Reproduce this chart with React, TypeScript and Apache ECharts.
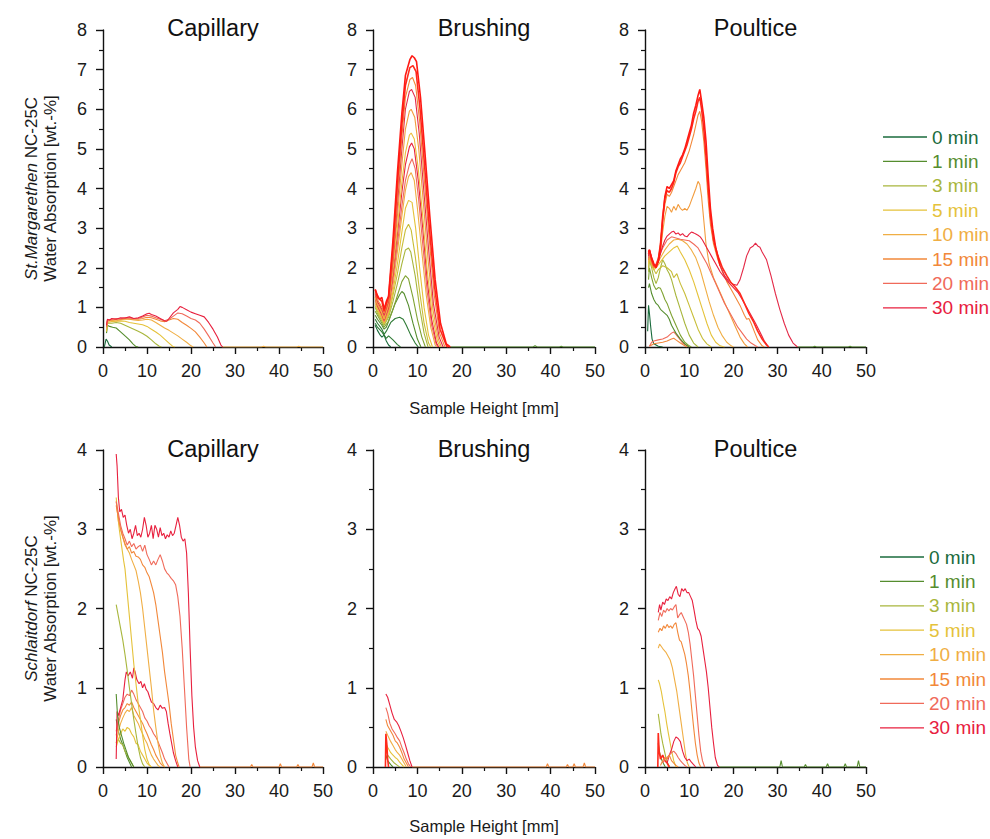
import React, { useEffect, useRef } from "react";
import * as echarts from "echarts";

// ---------- Legend / times ----------
const legendTimes = ["0 min", "1 min", "3 min", "5 min", "10 min", "15 min", "20 min", "30 min"];

// ---------- Panel titles / axis texts ----------
const panelTitles = ["Capillary", "Brushing", "Poultice", "Capillary", "Brushing", "Poultice"];
const xTitle = "Sample Height [mm]";
const yTitleTop = ["St.Margarethen", " NC-25C", "Water Absorption [wt.-%]"];
const yTitleBottom = ["Schlaitdorf", " NC-25C", "Water Absorption [wt.-%]"];
const yMaxTop = 8;
const yMaxBottom = 4;

// ---------- St. Margarethen – Capillary ----------
const smCapNames = ["0 min", "1 min", "3 min", "5 min", "10 min", "15 min", "20 min", "30 min"];
const smCapCurves = [
  [[0.3, 0], [0.7, 0.2], [1.0, 0.15], [1.4, 0.05], [2, 0]],
  [[0.8, 0.35], [1.0, 0.55], [1.5, 0.52], [2.2, 0.5], [3, 0.48], [3.8, 0.4], [4.5, 0.33], [5.2, 0.26], [6, 0.18], [6.8, 0.08], [7.5, 0.01], [8, 0]],
  [[0.8, 0.38], [1.0, 0.6], [2, 0.6], [3, 0.62], [4, 0.6], [5, 0.55], [6, 0.5], [7, 0.45], [8, 0.4], [9, 0.34], [10, 0.27], [11, 0.18], [12, 0.08], [12.8, 0.02], [13.3, 0]],
  [[0.8, 0.4], [1, 0.62], [2, 0.64], [3, 0.65], [4, 0.66], [5, 0.65], [6, 0.62], [7, 0.6], [8, 0.58], [9, 0.56], [10, 0.52], [11, 0.45], [12, 0.38], [13, 0.3], [14, 0.2], [15, 0.1], [15.8, 0.02], [16.3, 0]],
  [[0.8, 0.45], [1, 0.65], [2, 0.67], [3, 0.66], [4, 0.69], [5, 0.7], [6, 0.7], [7, 0.68], [8, 0.67], [9, 0.68], [10, 0.7], [11, 0.68], [12, 0.62], [13, 0.55], [14, 0.48], [15, 0.42], [16, 0.35], [17, 0.28], [18, 0.2], [19, 0.12], [20, 0.03], [20.5, 0]],
  [[0.8, 0.5], [1, 0.66], [2, 0.68], [3, 0.7], [4, 0.7], [5, 0.72], [6, 0.71], [7, 0.7], [8, 0.7], [9, 0.72], [10, 0.75], [11, 0.74], [12, 0.7], [13, 0.66], [14, 0.64], [15, 0.68], [16, 0.72], [17, 0.7], [18, 0.62], [19, 0.55], [20, 0.47], [21, 0.38], [22, 0.25], [23, 0.1], [23.6, 0]],
  [[0.8, 0.52], [1, 0.68], [2, 0.7], [3, 0.72], [4, 0.71], [5, 0.74], [6, 0.73], [7, 0.72], [8, 0.72], [9, 0.76], [10, 0.8], [11, 0.78], [12, 0.74], [13, 0.7], [14, 0.66], [15, 0.7], [16, 0.78], [17, 0.86], [18, 0.84], [19, 0.78], [20, 0.72], [21, 0.68], [22, 0.6], [23, 0.45], [24, 0.28], [25, 0.1], [25.6, 0]],
  [[0.8, 0.55], [1, 0.7], [1.5, 0.68], [2, 0.72], [3, 0.7], [4, 0.74], [5, 0.73], [6, 0.76], [7, 0.72], [8, 0.74], [9, 0.78], [10, 0.84], [10.5, 0.85], [11, 0.82], [12, 0.78], [13, 0.72], [14, 0.66], [14.5, 0.65], [15, 0.72], [16, 0.86], [17, 0.95], [17.5, 1.02], [18, 1.0], [19, 0.94], [20, 0.88], [21, 0.84], [22, 0.8], [23, 0.76], [24, 0.62], [25, 0.45], [26, 0.25], [26.8, 0.05], [27.2, 0]],
];
const smCapNoise = [[27, 0], [36, 0], [36.5, 0.02], [37, 0], [44, 0], [44.5, 0.02], [45, 0], [50, 0]];

// ---------- St. Margarethen – Brushing ----------
const smBrNames = ["0 min", "0.5 min", "0.5 min", "1 min", "2 min", "3 min", "4 min", "5 min", "10 min", "20 min", "30 min", "7 min", "12 min", "25 min", "15 min", "45 min", "60 min"];
const smBrCurves = [
  [[0.5, 0.55], [1, 0.42], [1.5, 0.32], [2, 0.25], [2.5, 0.3], [3, 0.15], [3.5, 0.05], [4, 0]],
  [[0.5, 0.6], [1, 0.5], [2, 0.38], [2.5, 0.3], [3, 0.22], [3.5, 0.28], [4.5, 0.18], [5.5, 0.06], [6.2, 0]],
  [[0.5, 0.7], [1, 0.6], [2, 0.45], [2.5, 0.32], [3, 0.4], [4, 0.62], [5, 0.72], [6, 0.75], [6.8, 0.7], [7.5, 0.55], [8.5, 0.3], [9.5, 0.1], [10.2, 0]],
  [[0.5, 0.8], [1, 0.7], [2, 0.55], [2.5, 0.45], [3, 0.5], [4, 0.8], [5, 1.1], [6, 1.32], [6.5, 1.4], [7, 1.35], [8, 1.05], [9, 0.6], [10, 0.2], [10.8, 0]],
  [[0.5, 0.9], [1, 0.8], [2, 0.6], [2.5, 0.5], [3.5, 0.65], [4.5, 0.95], [5.5, 1.3], [6.5, 1.65], [7.3, 1.8], [8, 1.72], [9, 1.25], [10, 0.7], [11, 0.25], [11.8, 0]],
  [[0.5, 1.0], [1, 0.85], [2, 0.65], [2.5, 0.55], [3.5, 0.75], [4.5, 1.15], [5.5, 1.6], [6.5, 2.1], [7.3, 2.45], [8, 2.5], [8.5, 2.4], [9.5, 1.8], [10.5, 1.0], [11.5, 0.35], [12.4, 0]],
  [[0.5, 1.05], [1, 0.9], [2, 0.7], [2.5, 0.58], [3.5, 0.8], [4.5, 1.3], [5.5, 1.85], [6.5, 2.5], [7.3, 2.95], [8, 3.1], [8.6, 2.95], [9.5, 2.3], [10.5, 1.4], [11.5, 0.6], [12.5, 0.1], [13, 0]],
  [[0.5, 1.1], [1, 0.95], [2, 0.72], [2.5, 0.6], [3.5, 0.85], [4.5, 1.4], [5.5, 2.1], [6.5, 2.9], [7.3, 3.5], [8, 3.7], [8.8, 3.65], [9.6, 3.0], [10.5, 2.0], [11.5, 1.0], [12.5, 0.3], [13.4, 0]],
  [[0.5, 1.15], [1, 1.0], [2, 0.75], [2.5, 0.62], [3.5, 0.9], [4.5, 1.55], [5.5, 2.4], [6.5, 3.3], [7.3, 3.95], [8, 4.3], [8.6, 4.4], [9.3, 4.2], [10, 3.5], [11, 2.4], [12, 1.3], [13, 0.5], [14, 0.05], [14.3, 0]],
  [[0.5, 1.2], [1, 1.02], [2, 0.8], [2.5, 0.65], [3.5, 0.95], [4.5, 1.7], [5.5, 2.6], [6.5, 3.55], [7.3, 4.2], [8.2, 4.6], [8.8, 4.75], [9.5, 4.5], [10.3, 3.7], [11.2, 2.6], [12.2, 1.4], [13.2, 0.55], [14.2, 0.08], [14.6, 0]],
  [[0.5, 1.25], [1, 1.05], [2, 0.82], [2.5, 0.68], [3.5, 1.0], [4.5, 1.85], [5.5, 2.85], [6.5, 3.9], [7.3, 4.6], [8.2, 5.05], [8.7, 5.15], [9.3, 5.0], [10.2, 4.2], [11.2, 3.0], [12.2, 1.7], [13.2, 0.7], [14.3, 0.1], [14.8, 0]],
  [[0.5, 1.25], [1, 1.08], [2, 0.85], [2.5, 0.7], [3.5, 1.05], [4.5, 1.95], [5.5, 3.0], [6.5, 4.15], [7.3, 4.9], [8.2, 5.35], [8.6, 5.4], [9.3, 5.25], [10.2, 4.5], [11.2, 3.3], [12.2, 1.95], [13.3, 0.85], [14.5, 0.15], [15.1, 0]],
  [[0.5, 1.3], [1, 1.1], [2, 0.9], [2.5, 0.75], [3.5, 1.1], [4.5, 2.1], [5.5, 3.3], [6.5, 4.6], [7.3, 5.5], [8.2, 5.95], [8.6, 6.0], [9.4, 5.8], [10.3, 5.0], [11.3, 3.7], [12.4, 2.2], [13.5, 0.95], [14.7, 0.2], [15.4, 0]],
  [[0.5, 1.35], [1, 1.15], [2, 0.95], [2.5, 0.8], [3.5, 1.15], [4.5, 2.2], [5.5, 3.6], [6.5, 5.0], [7.3, 6.0], [8.2, 6.45], [8.7, 6.5], [9.5, 6.3], [10.4, 5.4], [11.4, 4.0], [12.5, 2.5], [13.6, 1.1], [14.9, 0.25], [15.8, 0]],
  [[0.5, 1.4], [1, 1.2], [2, 1.0], [2.5, 0.85], [3.5, 1.2], [4.5, 2.3], [5.5, 3.8], [6.5, 5.3], [7.3, 6.3], [8.3, 6.75], [8.9, 6.8], [9.6, 6.6], [10.5, 5.7], [11.5, 4.3], [12.6, 2.8], [13.8, 1.3], [15, 0.35], [16.2, 0]],
  [[0.5, 1.45], [1, 1.25], [1.5, 1.2], [2, 1.15], [2.5, 0.9], [3, 1.1], [3.5, 1.25], [4.5, 2.5], [5.5, 4.1], [6.5, 5.6], [7.3, 6.6], [8.3, 7.05], [9, 7.1], [9.7, 6.95], [10.6, 6.0], [11.6, 4.6], [12.7, 3.0], [13.9, 1.5], [15.1, 0.45], [16.6, 0.02], [17, 0]],
  [[0.5, 1.45], [1, 1.3], [1.5, 1.2], [2, 1.25], [2.5, 0.95], [3, 1.15], [3.5, 1.28], [4.5, 2.7], [5.5, 4.4], [6.5, 5.9], [7.3, 6.85], [8.3, 7.25], [8.8, 7.35], [9.3, 7.3], [9.8, 7.2], [10.7, 6.3], [11.7, 4.9], [12.8, 3.3], [14, 1.7], [15.2, 0.6], [16.5, 0.08], [17.4, 0]],
];
const smBrNoise = [[17.4, 0], [36, 0], [36.5, 0.03], [37, 0], [42, 0], [42.4, 0.02], [42.8, 0], [50, 0]];

// ---------- St. Margarethen – Poultice ----------
const smPoNames = ["0 min", "15 min", "20 min", "1 min", "2 min", "3 min", "4 min", "5 min", "10 min", "12 min", "15 min", "20 min", "30 min", "25 min", "45 min", "60 min"];
const smPoCurves = [
  [[0.6, 0.4], [0.8, 1.05], [1.0, 0.85], [1.3, 0.5], [1.6, 0.2], [2, 0.08], [3, 0.02], [4, 0]],
  [[1, 0.02], [2, 0.08], [3, 0.1], [4, 0.12], [5, 0.15], [6, 0.2], [6.5, 0.22], [7, 0.18], [8, 0.1], [9, 0.03], [9.5, 0]],
  [[1, 0.02], [1.5, 0.12], [2, 0.15], [3, 0.18], [4, 0.2], [5, 0.25], [5.5, 0.3], [6, 0.35], [6.5, 0.38], [7, 0.32], [7.5, 0.25], [8, 0.18], [8.5, 0.1], [9.5, 0.03], [10, 0]],
  [[0.8, 1.5], [1, 1.6], [1.5, 1.35], [2, 1.2], [2.5, 1.1], [3, 1.05], [3.5, 0.95], [4, 0.9], [4.5, 0.85], [5, 0.8], [5.5, 0.7], [6, 0.55], [6.5, 0.45], [7, 0.35], [8, 0.2], [9, 0.08], [10, 0]],
  [[0.8, 1.7], [1, 2.0], [1.5, 1.75], [2, 1.55], [2.5, 1.45], [3, 1.5], [3.5, 1.48], [4, 1.35], [4.5, 1.2], [5, 1.1], [5.5, 0.95], [6, 0.8], [7, 0.55], [8, 0.3], [9, 0.12], [10, 0.03], [10.5, 0]],
  [[0.8, 1.9], [1, 2.2], [1.5, 2.0], [2, 1.75], [2.5, 1.6], [3, 1.75], [3.5, 2.0], [4, 2.2], [4.5, 2.1], [5, 1.95], [5.5, 1.85], [6, 1.7], [6.5, 1.5], [7, 1.3], [8, 0.95], [9, 0.6], [10, 0.3], [11, 0.1], [12, 0]],
  [[0.8, 2.0], [1, 2.2], [1.5, 2.05], [2, 1.95], [2.5, 1.85], [3, 1.95], [4, 2.05], [5, 2.0], [6, 1.9], [6.5, 1.75], [7.2, 1.85], [8, 1.6], [9, 1.35], [10, 1.05], [11, 0.75], [12, 0.45], [13, 0.22], [14, 0.08], [15, 0]],
  [[0.8, 2.1], [1, 2.25], [1.5, 2.1], [2, 1.95], [2.5, 2.0], [3.5, 2.15], [4.5, 2.3], [5.5, 2.4], [6.5, 2.5], [7.3, 2.55], [8, 2.4], [9, 2.2], [10, 1.95], [11, 1.65], [12, 1.3], [13, 0.95], [14, 0.6], [15, 0.3], [16, 0.12], [17, 0.03], [18, 0]],
  [[0.8, 2.15], [1, 2.3], [1.5, 2.15], [2, 2.0], [2.5, 2.05], [3.5, 2.25], [4.5, 2.45], [5.5, 2.6], [6.5, 2.7], [7.5, 2.72], [8.5, 2.68], [9.5, 2.6], [10.5, 2.45], [11.5, 2.25], [12.5, 1.95], [13.5, 1.55], [14.5, 1.15], [15.5, 0.8], [16.5, 0.5], [17.5, 0.28], [18.5, 0.12], [19.5, 0.03], [20, 0]],
  [[0.8, 2.2], [1, 2.3], [1.5, 2.1], [2, 2.0], [2.5, 2.05], [3, 2.15], [3.5, 2.4], [4, 2.9], [4.5, 3.3], [5, 3.55], [5.5, 3.5], [6, 3.4], [6.5, 3.55], [7, 3.45], [7.5, 3.6], [8, 3.5], [8.5, 3.45], [9, 3.5], [9.5, 3.45], [10, 3.55], [10.5, 3.7], [11, 3.85], [11.5, 4.0], [12, 4.18], [12.4, 4.1], [12.8, 3.8], [13.3, 3.2], [13.8, 2.6], [14.5, 2.1], [15.5, 1.75], [16.5, 1.5], [17.5, 1.25], [18.5, 1.0], [19.5, 0.75], [20.5, 0.5], [21.5, 0.25], [22.5, 0.08], [23.2, 0]],
  [[0.8, 2.2], [1, 2.35], [1.5, 2.15], [2, 2.0], [2.5, 2.05], [3, 2.2], [3.5, 2.6], [4, 3.2], [4.5, 3.6], [5, 3.85], [5.5, 3.8], [6, 3.9], [6.5, 4.05], [7, 4.2], [7.5, 4.35], [8, 4.45], [8.5, 4.55], [9, 4.65], [9.5, 4.8], [10, 4.95], [10.5, 5.15], [11, 5.35], [11.5, 5.6], [12, 5.85], [12.4, 5.95], [12.8, 5.7], [13.3, 5.2], [13.8, 4.5], [14.3, 3.7], [14.8, 3.1], [15.5, 2.6], [16.5, 2.2], [17.5, 1.9], [18.5, 1.65], [19.5, 1.45], [20.5, 1.25], [21.5, 1.05], [22.5, 0.8], [23, 0.7], [23.5, 0.72], [24, 0.6], [24.7, 0.4], [25.5, 0.18], [26.5, 0.03], [27, 0]],
  [[0.8, 2.25], [1, 2.4], [1.5, 2.2], [2, 2.05], [2.5, 2.1], [3, 2.25], [4, 2.5], [5, 2.7], [6, 2.78], [7, 2.75], [8, 2.72], [9, 2.7], [10, 2.68], [11, 2.6], [12, 2.5], [13, 2.3], [14, 2.1], [15, 1.85], [16, 1.6], [17, 1.35], [18, 1.1], [19, 0.9], [20, 0.7], [21, 0.5], [22, 0.35], [23, 0.2], [24, 0.1], [25, 0.03], [25.5, 0]],
  [[0.8, 2.3], [1, 2.45], [1.5, 2.25], [2, 2.1], [2.5, 2.05], [3, 2.15], [3.5, 2.35], [4, 2.55], [4.5, 2.7], [5, 2.8], [5.5, 2.85], [6, 2.9], [6.5, 2.92], [7, 2.85], [7.5, 2.88], [8, 2.82], [8.5, 2.86], [9, 2.8], [9.5, 2.78], [10, 2.85], [10.5, 2.9], [11, 2.88], [11.5, 2.85], [12, 2.82], [12.5, 2.78], [13, 2.7], [14, 2.5], [15, 2.3], [16, 2.1], [17, 1.9], [18, 1.75], [19, 1.62], [20, 1.5], [21, 1.38], [22, 1.2], [23, 1.0], [24, 0.8], [25, 0.6], [26, 0.38], [27, 0.15], [28, 0]],
  [[17, 2.05], [18, 1.8], [19, 1.65], [20, 1.58], [20.8, 1.56], [21.5, 1.7], [22.3, 2.0], [23, 2.3], [23.8, 2.5], [24.5, 2.55], [25, 2.62], [25.5, 2.55], [26, 2.52], [26.5, 2.4], [27.5, 2.2], [28.5, 1.8], [29.5, 1.35], [30.5, 0.95], [31.5, 0.6], [32.5, 0.3], [33.5, 0.1], [34.5, 0]],
  [[0.8, 2.35], [1, 2.45], [1.5, 2.2], [2, 2.05], [2.5, 2.05], [3, 2.2], [3.5, 2.6], [4, 3.3], [4.5, 3.75], [5, 3.95], [5.5, 3.9], [6, 4.0], [6.5, 4.15], [7, 4.4], [7.5, 4.55], [8, 4.65], [8.5, 4.8], [9, 4.95], [9.5, 5.1], [10, 5.3], [10.5, 5.5], [11, 5.75], [11.5, 5.95], [12, 6.2], [12.4, 6.3], [12.8, 6.0], [13.3, 5.5], [13.8, 4.8], [14.3, 4.0], [14.8, 3.3], [15.5, 2.7], [16.5, 2.3], [17.5, 2.0], [18.5, 1.8], [19.5, 1.62], [20.5, 1.5], [21.5, 1.35], [22.5, 1.1], [23.5, 0.85], [24.5, 0.65], [25.5, 0.4], [26.5, 0.2], [27.5, 0.05], [28, 0]],
  [[0.8, 2.4], [1, 2.45], [1.5, 2.25], [2, 2.1], [2.5, 2.0], [3, 2.15], [3.5, 2.5], [4, 3.2], [4.5, 3.8], [5, 4.05], [5.5, 4.0], [6, 4.1], [6.5, 4.2], [7, 4.45], [7.5, 4.6], [8, 4.75], [8.5, 4.85], [9, 5.0], [9.5, 5.2], [10, 5.4], [10.5, 5.6], [11, 5.9], [11.5, 6.1], [12, 6.35], [12.4, 6.5], [12.8, 6.2], [13.3, 5.8], [13.8, 5.2], [14.3, 4.3], [14.8, 3.5], [15.3, 3.0], [16, 2.5], [17, 2.05]],
];
const smPoNoise = [[34.5, 0], [38, 0], [38.4, 0.02], [38.8, 0], [46, 0], [46.4, 0.02], [46.8, 0], [50, 0]];

// ---------- Schlaitdorf – Capillary ----------
const slCapNames = ["1 min", "3 min", "5 min", "10 min", "15 min", "20 min", "30 min", "1 min", "3 min", "5 min", "10 min", "15 min", "20 min", "30 min"];
const slCapCurves = [
  [[3, 0.6], [3.5, 0.45], [4, 0.35], [4.5, 0.28], [5, 0.2], [5.5, 0.12], [6, 0.06], [6.5, 0]],
  [[3, 0.3], [3.5, 0.35], [4, 0.3], [4.5, 0.28], [5, 0.2], [5.5, 0.15], [6, 0.1], [6.5, 0.05], [7, 0]],
  [[3, 0.25], [3.5, 0.35], [4, 0.42], [4.5, 0.48], [5, 0.45], [5.5, 0.5], [6, 0.48], [6.5, 0.42], [7, 0.38], [7.5, 0.3], [8, 0.28], [8.5, 0.2], [9, 0.15], [9.5, 0.1], [10, 0.05], [10.5, 0.02], [11, 0]],
  [[3, 0.3], [3.5, 0.45], [4, 0.55], [4.5, 0.62], [5, 0.68], [5.5, 0.72], [6, 0.7], [6.5, 0.75], [7, 0.65], [7.5, 0.6], [8, 0.55], [8.5, 0.48], [9, 0.42], [9.5, 0.35], [10, 0.3], [10.5, 0.22], [11, 0.15], [11.5, 0.1], [12, 0.06], [12.5, 0.02], [13, 0]],
  [[3, 0.4], [3.5, 0.55], [4, 0.65], [4.5, 0.72], [5, 0.75], [5.5, 0.8], [6, 0.78], [6.5, 0.82], [7, 0.75], [7.5, 0.7], [8, 0.65], [8.5, 0.6], [9, 0.55], [9.5, 0.48], [10, 0.42], [10.5, 0.35], [11, 0.28], [11.5, 0.22], [12, 0.15], [12.5, 0.1], [13, 0.05], [13.5, 0.02], [14, 0]],
  [[3, 0.45], [3.5, 0.6], [4, 0.72], [4.5, 0.8], [5, 0.88], [5.5, 0.92], [6, 0.9], [6.5, 0.97], [7, 0.92], [7.5, 0.85], [8, 0.8], [8.5, 0.75], [9, 0.7], [9.5, 0.62], [10, 0.58], [10.5, 0.52], [11, 0.48], [11.5, 0.42], [12, 0.38], [12.5, 0.32], [13, 0.25], [13.5, 0.18], [14, 0.1], [14.5, 0.05], [15, 0]],
  [[3, 0.1], [3.2, 0.7], [3.5, 0.65], [4, 0.75], [4.5, 0.85], [5, 1.1], [5.3, 1.2], [5.7, 1.15], [6.2, 1.2], [6.7, 1.12], [7, 1.25], [7.3, 1.2], [7.7, 1.1], [8.2, 1.05], [8.6, 1.08], [9, 1.0], [9.4, 1.05], [9.8, 0.98], [10.2, 0.95], [10.6, 0.88], [11, 0.82], [11.5, 0.8], [12, 0.75], [12.5, 0.72], [13, 0.78], [13.5, 0.74], [14, 0.75], [14.4, 0.7], [14.8, 0.55], [15.2, 0.42], [15.6, 0.3], [16, 0.18], [16.5, 0.08], [17, 0]],
  [[3, 0.92], [3.3, 0.65], [3.7, 0.5], [4.2, 0.4], [4.7, 0.3], [5.2, 0.22], [5.8, 0.12], [6.5, 0.05], [7, 0]],
  [[3, 2.05], [3.5, 1.9], [4, 1.75], [4.5, 1.6], [5, 1.42], [5.5, 1.22], [6, 1.0], [6.5, 0.8], [7, 0.6], [7.5, 0.42], [8, 0.25], [8.5, 0.12], [9, 0.04], [9.5, 0]],
  [[3, 3.4], [3.3, 3.2], [3.7, 3.0], [4.2, 2.8], [4.7, 2.6], [5, 2.5], [5.5, 2.2], [6, 1.9], [6.5, 1.6], [7, 1.3], [7.5, 1.05], [8, 0.8], [8.5, 0.6], [9, 0.4], [9.5, 0.22], [10, 0.1], [10.5, 0.03], [11, 0]],
  [[3, 3.35], [3.5, 3.1], [4, 3.0], [4.5, 2.9], [5, 2.8], [5.5, 2.75], [6, 2.7], [6.5, 2.62], [7, 2.55], [7.5, 2.48], [8, 2.35], [8.5, 2.2], [9, 2.0], [9.5, 1.75], [10, 1.5], [10.5, 1.25], [11, 1.0], [11.5, 0.72], [12, 0.5], [12.5, 0.3], [13, 0.15], [13.5, 0.05], [14, 0]],
  [[3, 3.3], [3.5, 3.15], [4, 3.0], [4.5, 2.9], [5, 2.82], [5.5, 2.75], [6, 2.78], [6.5, 2.7], [7, 2.72], [7.5, 2.66], [8, 2.65], [8.5, 2.62], [9, 2.55], [9.5, 2.52], [10, 2.45], [10.5, 2.4], [11, 2.3], [11.5, 2.2], [12, 2.05], [12.5, 1.85], [13, 1.65], [13.5, 1.45], [14, 1.2], [14.5, 1.0], [15, 0.8], [15.5, 0.55], [16, 0.35], [16.5, 0.15], [17, 0.05], [17.3, 0]],
  [[3, 3.35], [3.5, 3.2], [4, 3.05], [4.5, 2.95], [5, 2.88], [5.5, 2.8], [6, 2.85], [6.5, 2.78], [7, 2.82], [7.5, 2.75], [8, 2.78], [8.5, 2.8], [9, 2.72], [9.5, 2.8], [10, 2.68], [10.5, 2.62], [11, 2.55], [11.5, 2.6], [12, 2.55], [12.5, 2.62], [13, 2.68], [13.5, 2.6], [14, 2.5], [14.5, 2.45], [15, 2.42], [15.5, 2.38], [16, 2.35], [16.5, 2.3], [17, 2.15], [17.5, 1.9], [18, 1.5], [18.5, 1.0], [19, 0.5], [19.5, 0.1], [19.8, 0]],
  [[3, 3.95], [3.2, 3.8], [3.5, 3.4], [3.8, 3.22], [4.2, 3.25], [4.6, 3.15], [5, 3.18], [5.4, 3.05], [5.8, 2.95], [6.2, 3.0], [6.6, 2.88], [7, 2.95], [7.4, 3.05], [7.8, 2.92], [8.2, 2.95], [8.6, 2.9], [9, 3.0], [9.4, 3.15], [9.8, 3.05], [10.2, 2.9], [10.6, 2.95], [11, 3.05], [11.4, 2.88], [11.8, 3.05], [12.2, 3.0], [12.6, 2.9], [13, 3.02], [13.4, 2.92], [13.8, 2.95], [14.2, 2.88], [14.6, 2.93], [15, 2.9], [15.4, 2.98], [15.8, 2.92], [16.2, 2.95], [16.6, 3.05], [17, 3.15], [17.4, 3.05], [17.8, 2.9], [18.2, 2.85], [18.6, 2.88], [19, 2.7], [19.4, 2.2], [19.8, 1.5], [20.2, 0.9], [20.6, 0.5], [21, 0.25], [21.5, 0.08], [22, 0]],
];
const slCapNoise = [[22, 0], [33.5, 0], [33.8, 0.03], [34.1, 0], [40, 0], [40.3, 0.04], [40.6, 0], [44, 0], [44.3, 0.03], [44.6, 0], [47.5, 0], [47.8, 0.05], [48.1, 0], [50, 0]];

// ---------- Schlaitdorf – Brushing ----------
const slBrNames = ["1 min", "3 min", "5 min", "10 min", "15 min", "20 min", "30 min", "45 min"];
const slBrCurves = [
  [[2.9, 0.15], [3.3, 0.08], [4, 0.03], [4.5, 0]],
  [[2.9, 0.22], [3.3, 0.15], [4, 0.1], [4.8, 0.05], [5.5, 0.02], [6, 0]],
  [[2.9, 0.3], [3.3, 0.25], [4, 0.18], [4.5, 0.15], [5, 0.12], [5.5, 0.1], [6, 0.06], [6.5, 0.03], [7, 0]],
  [[2.9, 0.45], [3.3, 0.4], [4, 0.32], [4.5, 0.27], [5, 0.22], [5.5, 0.18], [6, 0.15], [6.5, 0.1], [7, 0.05], [7.5, 0]],
  [[2.9, 0.6], [3.3, 0.52], [4, 0.45], [4.5, 0.4], [5, 0.33], [5.5, 0.3], [6, 0.25], [6.5, 0.18], [7, 0.1], [7.5, 0.05], [8, 0]],
  [[2.9, 0.75], [3.3, 0.68], [3.8, 0.55], [4.3, 0.48], [5, 0.42], [5.5, 0.37], [6, 0.33], [6.5, 0.25], [7, 0.18], [7.5, 0.1], [8, 0.04], [8.5, 0]],
  [[2.9, 0.92], [3.3, 0.88], [3.8, 0.78], [4.3, 0.68], [4.8, 0.6], [5.3, 0.57], [5.8, 0.52], [6.3, 0.45], [6.8, 0.37], [7.3, 0.28], [7.8, 0.18], [8.3, 0.08], [8.8, 0]],
  [[2.8, 0], [2.9, 0.42], [3.1, 0.3], [3.3, 0.1], [3.5, 0]],
];
const slBrNoise = [[8.8, 0], [39, 0], [39.3, 0.04], [39.6, 0], [43.5, 0], [43.8, 0.03], [44.1, 0], [45, 0], [45.3, 0.04], [45.6, 0], [47.3, 0], [47.6, 0.05], [47.9, 0], [50, 0]];

// ---------- Schlaitdorf – Poultice ----------
const slPoNames = ["1 min", "3 min", "5 min", "10 min", "15 min", "20 min", "30 min", "45 min", "30 min", "20 min", "15 min"];
const slPoCurves = [
  [[3, 0.3], [3.3, 0.18], [3.7, 0.1], [4.2, 0.04], [4.6, 0]],
  [[3, 0.67], [3.3, 0.55], [3.6, 0.42], [4, 0.3], [4.4, 0.2], [4.8, 0.1], [5.2, 0.04], [5.6, 0]],
  [[3, 1.1], [3.3, 1.05], [3.7, 0.95], [4.1, 0.82], [4.5, 0.7], [4.9, 0.55], [5.3, 0.42], [5.7, 0.3], [6.1, 0.18], [6.5, 0.08], [7, 0]],
  [[3, 1.5], [3.3, 1.55], [3.7, 1.52], [4.2, 1.48], [4.7, 1.45], [5.2, 1.4], [5.7, 1.35], [6.2, 1.25], [6.7, 1.1], [7.2, 0.95], [7.7, 0.75], [8.2, 0.55], [8.7, 0.35], [9.2, 0.15], [9.6, 0.05], [10, 0]],
  [[3, 1.7], [3.4, 1.75], [3.8, 1.72], [4.2, 1.78], [4.6, 1.75], [5, 1.8], [5.4, 1.76], [5.8, 1.78], [6.2, 1.75], [6.6, 1.8], [7, 1.82], [7.4, 1.7], [7.8, 1.6], [8.2, 1.58], [8.6, 1.5], [9, 1.42], [9.4, 1.3], [9.8, 1.15], [10.2, 0.95], [10.6, 0.72], [11, 0.5], [11.4, 0.3], [11.8, 0.15], [12.2, 0.05], [12.6, 0]],
  [[3, 1.85], [3.4, 1.95], [3.8, 1.9], [4.2, 1.98], [4.6, 1.95], [5, 2.0], [5.4, 1.97], [5.8, 2.0], [6.2, 1.98], [6.6, 2.02], [7, 2.05], [7.4, 1.88], [7.8, 1.92], [8.2, 1.95], [8.6, 1.9], [9, 1.85], [9.4, 1.8], [9.8, 1.7], [10.2, 1.55], [10.6, 1.35], [11, 1.15], [11.4, 0.9], [11.8, 0.65], [12.2, 0.4], [12.6, 0.2], [13, 0.08], [13.5, 0]],
  [[3, 1.95], [3.3, 2.05], [3.6, 1.98], [4, 2.08], [4.4, 2.05], [4.8, 2.12], [5.2, 2.1], [5.6, 2.15], [6, 2.12], [6.4, 2.2], [6.8, 2.25], [7.1, 2.28], [7.5, 2.18], [7.9, 2.15], [8.3, 2.25], [8.7, 2.22], [9.1, 2.25], [9.5, 2.2], [9.9, 2.2], [10.3, 2.15], [10.7, 2.1], [11.1, 1.98], [11.5, 1.85], [11.9, 1.75], [12.3, 1.72], [12.7, 1.65], [13.1, 1.5], [13.5, 1.35], [13.9, 1.2], [14.3, 1.0], [14.7, 0.75], [15.1, 0.5], [15.5, 0.3], [15.9, 0.12], [16.4, 0.02], [16.8, 0]],
  [[2.9, 0], [3, 0.43], [3.2, 0.2], [3.5, 0.1], [4, 0.15], [4.5, 0.08], [5, 0.05], [5.5, 0]],
  [[5, 0.05], [5.5, 0.15], [6, 0.22], [6.5, 0.32], [7, 0.38], [7.5, 0.36], [8, 0.32], [8.5, 0.2], [9, 0.12], [9.5, 0.08], [10, 0.1], [10.5, 0.06], [11, 0.03], [11.5, 0]],
  [[4, 0.05], [4.5, 0.1], [5, 0.12], [5.5, 0.15], [6, 0.18], [6.5, 0.2], [7, 0.17], [7.5, 0.12], [8, 0.08], [8.5, 0.05], [9, 0.02], [9.5, 0]],
  [[3.5, 0.02], [4, 0.08], [4.5, 0.12], [5, 0.1], [5.5, 0.15], [6, 0.08], [6.5, 0.05], [7, 0.02], [7.5, 0]],
];
const slPoNoise = [[16.8, 0], [30.5, 0], [30.8, 0.08], [31.1, 0], [36, 0], [36.3, 0.03], [36.6, 0], [41, 0], [41.3, 0.04], [41.6, 0], [45, 0], [45.3, 0.04], [45.6, 0], [48, 0], [48.3, 0.08], [48.6, 0], [50, 0]];

// ---------- Styles (not data) ----------
const TIME_COLORS: Record<string, string> = {
  "0 min": "#1a6b3c",
  "0.5 min": "#2e7a35",
  "1 min": "#558d2e",
  "2 min": "#7fa232",
  "3 min": "#a8b63c",
  "4 min": "#c8bd38",
  "5 min": "#e5c23a",
  "7 min": "#ecbd3c",
  "10 min": "#f0ae44",
  "12 min": "#f29c3e",
  "15 min": "#f2883a",
  "17 min": "#f2764a",
  "20 min": "#f06a5a",
  "25 min": "#e42a48",
  "30 min": "#e8203e",
  "45 min": "#ff2a1c",
  "60 min": "#ff1a14",
};
const FONT = "'Liberation Sans', Arial, Helvetica, sans-serif";
const GRID_LEFT = [103, 373, 645];
const GRID_WIDTH = [220, 222, 221];
const GRID_TOP = [30, 450];
const GRID_HEIGHT = 317;
const TITLE_Y = [28, 449];

const panels = [
  { names: smCapNames, curves: smCapCurves, noise: smCapNoise, noiseName: "10 min" },
  { names: smBrNames, curves: smBrCurves, noise: smBrNoise, noiseName: "1 min" },
  { names: smPoNames, curves: smPoCurves, noise: smPoNoise, noiseName: "1 min" },
  { names: slCapNames, curves: slCapCurves, noise: slCapNoise, noiseName: "15 min" },
  { names: slBrNames, curves: slBrCurves, noise: slBrNoise, noiseName: "15 min" },
  { names: slPoNames, curves: slPoCurves, noise: slPoNoise, noiseName: "1 min" },
];

function buildOption() {
  const grids: any[] = [];
  const xAxes: any[] = [];
  const yAxes: any[] = [];
  const series: any[] = [];
  const graphics: any[] = [];

  panels.forEach((p, i) => {
    const row = i < 3 ? 0 : 1;
    const col = i % 3;
    grids.push({
      left: GRID_LEFT[col],
      width: GRID_WIDTH[col],
      top: GRID_TOP[row],
      height: GRID_HEIGHT,
      containLabel: false,
    });
    const axisLine = { show: true, onZero: false, lineStyle: { color: "#111", width: 1.4 } };
    xAxes.push({
      type: "value",
      gridIndex: i,
      min: 0,
      max: 50,
      interval: 10,
      axisLine,
      axisTick: { show: true, length: 7, lineStyle: { color: "#111", width: 1.4 } },
      minorTick: { show: true, splitNumber: 2, length: 4, lineStyle: { color: "#111", width: 1.2 } },
      splitLine: { show: false },
      axisLabel: { fontSize: 18, color: "#1a1a1a", fontFamily: FONT, margin: 15 },
      name: col === 1 ? xTitle : "",
      nameLocation: "middle",
      nameGap: row === 0 ? 52 : 50,
      nameTextStyle: { fontSize: 16.5, color: "#1a1a1a", fontFamily: FONT },
    });
    const yt = row === 0 ? yTitleTop : yTitleBottom;
    yAxes.push({
      type: "value",
      gridIndex: i,
      min: 0,
      max: row === 0 ? yMaxTop : yMaxBottom,
      interval: 1,
      axisLine,
      axisTick: { show: true, length: 7, lineStyle: { color: "#111", width: 1.4 } },
      minorTick: { show: true, splitNumber: 2, length: 4, lineStyle: { color: "#111", width: 1.2 } },
      splitLine: { show: false },
      axisLabel: { fontSize: 18, color: "#1a1a1a", fontFamily: FONT, margin: 16 },
      name: col === 0 ? `{it|${yt[0]}}${yt[1]}\n${yt[2]}` : "",
      nameLocation: "middle",
      nameGap: 43,
      nameTextStyle: {
        fontSize: 17,
        color: "#1a1a1a",
        fontFamily: FONT,
        lineHeight: 19,
        rich: { it: { fontStyle: "italic", fontSize: 17, fontFamily: FONT, color: "#1a1a1a", lineHeight: 19 } },
      },
    });

    p.curves.forEach((pts, j) => {
      const name = p.names[j];
      const color = TIME_COLORS[name];
      const wide = name === "45 min" || name === "60 min";
      series.push({
        type: "line",
        name,
        xAxisIndex: i,
        yAxisIndex: i,
        data: pts,
        symbol: "none",
        showSymbol: false,
        silent: true,
        clip: true,
        lineStyle: { color, width: wide ? 1.6 : 1.1 },
        itemStyle: { color },
      });
    });
    series.push({
      type: "line",
      name: p.noiseName,
      xAxisIndex: i,
      yAxisIndex: i,
      data: p.noise,
      symbol: "none",
      showSymbol: false,
      silent: true,
      z: 1,
      lineStyle: { color: TIME_COLORS[p.noiseName], width: 1.1 },
      itemStyle: { color: TIME_COLORS[p.noiseName] },
    });

    graphics.push({
      type: "text",
      x: GRID_LEFT[col] + GRID_WIDTH[col] / 2,
      y: TITLE_Y[row],
      style: {
        text: panelTitles[i],
        fontSize: 23.5,
        fontFamily: FONT,
        fill: "#111",
        textAlign: "center",
        textVerticalAlign: "middle",
      },
    });
  });

  const legendData = legendTimes.map((t) => ({
    name: t,
    icon: "rect",
    textStyle: { color: TIME_COLORS[t] },
    itemStyle: { color: TIME_COLORS[t], borderWidth: 0 },
  }));
  const legendBase = {
    orient: "vertical",
    data: legendData,
    icon: "rect",
    itemWidth: 44,
    itemHeight: 1.3,
    itemGap: 4.4,
    selectedMode: false,
    textStyle: { fontSize: 19, fontFamily: FONT, lineHeight: 20 },
    padding: 0,
  };

  return {
    animation: false,
    backgroundColor: "#ffffff",
    textStyle: { fontFamily: FONT },
    grid: grids,
    xAxis: xAxes,
    yAxis: yAxes,
    series,
    legend: [
      { ...legendBase, left: 883, top: 127 },
      { ...legendBase, left: 880, top: 547 },
    ],
    graphic: graphics,
  };
}

export default function App() {
  const ref = useRef<HTMLDivElement>(null);
  useEffect(() => {
    if (!ref.current) return;
    const chart = echarts.init(ref.current, undefined, { renderer: "svg" });
    chart.setOption(buildOption() as any);
    return () => chart.dispose();
  }, []);
  return (
    <div
      ref={ref}
      style={{ position: "absolute", left: 0, top: 0, width: 990, height: 839, background: "#fff" }}
    />
  );
}
